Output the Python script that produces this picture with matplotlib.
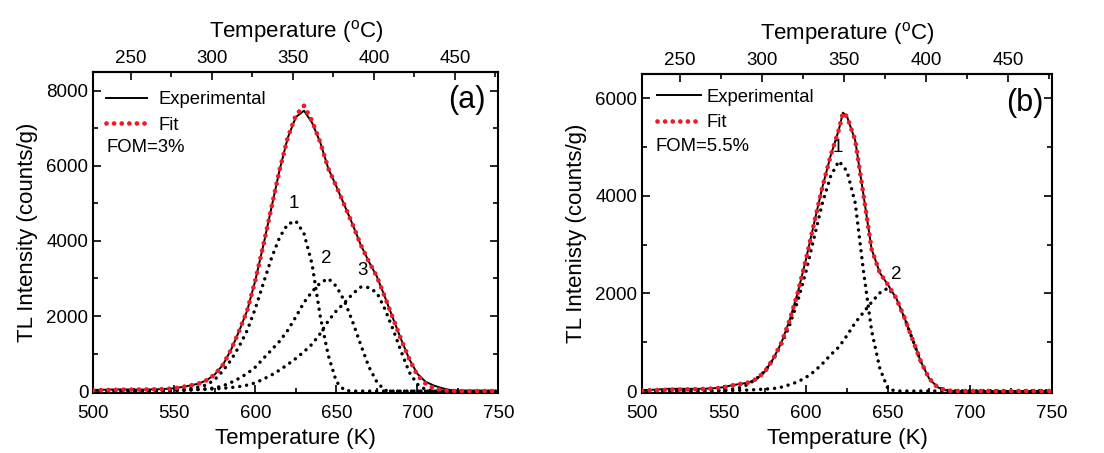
import matplotlib
matplotlib.use("Agg")
import matplotlib.pyplot as plt
from matplotlib.ticker import MultipleLocator

plt.rcParams["font.family"] = ["Liberation Sans", "DejaVu Sans"]
plt.rcParams["mathtext.fontset"] = "custom"
plt.rcParams["mathtext.rm"] = "Liberation Sans"

# ---------------- panel (a) ----------------
temp_a = list(range(500, 755, 5))
exp_a = [30, 35, 40, 45, 45, 40, 40, 45, 50, 60,
         75, 110, 150, 200, 290, 445, 700, 1100, 1600, 2150,
         2950, 3900, 4900, 5900, 6750, 7300, 7470, 7150, 6630, 5930,
         5450, 4950, 4440, 3900, 3450, 3050, 2500, 1930, 1370, 850,
         460, 250, 150, 80, 30, 8, 0, 0, 0, 0, 0]
fit_a = [20, 25, 30, 35, 40, 40, 40, 45, 50, 55,
         75, 110, 150, 200, 290, 445, 700, 1100, 1600, 2150,
         2950, 3900, 4900, 5900, 6750, 7350, 7600, 7200, 6630, 5930,
         5450, 4950, 4440, 3900, 3450, 3050, 2500, 1930, 1370, 850,
         420, 200, 80, 25, 5, 0, 0, 0, 0, 0, 0]
comp1_a = [0, 0, 0, 0, 0, 1, 2, 4, 7, 12,
           20, 40, 70, 110, 165, 310, 540, 830, 1190, 1620,
           2200, 2880, 3550, 4100, 4450, 4530, 4200, 3380, 2000, 950,
           250, 20, 0, 0, 0, 0, 0, 0, 0, 0,
           0, 0, 0, 0, 0, 0, 0, 0, 0, 0, 0]
comp2_a = [0, 0, 0, 0, 0, 0, 1, 2, 4, 6,
           10, 18, 30, 45, 60, 85, 140, 230, 340, 470,
           640, 870, 1100, 1330, 1620, 1980, 2360, 2650, 2880, 3000,
           2790, 2400, 1850, 1240, 650, 240, 20, 0, 0, 0,
           0, 0, 0, 0, 0, 0, 0, 0, 0, 0, 0]
comp3_a = [0, 0, 0, 0, 1, 2, 3, 5, 8, 12,
           17, 24, 32, 42, 50, 60, 75, 95, 120, 160,
           220, 320, 430, 560, 710, 870, 1050, 1250, 1530, 1870,
           2140, 2350, 2590, 2770, 2760, 2620, 2180, 1640, 1050, 500,
           180, 40, 5, 0, 0, 0, 0, 0, 0, 0, 0]
peak_labels_a = [("1", 623.5, 5000), ("2", 644, 3520), ("3", 666, 3210)]

# ---------------- panel (b) ----------------
temp_b_main = [500, 505, 510, 515, 520, 525, 530, 535, 540, 545,
               550, 555, 560, 565, 570, 575, 580, 585, 590, 595,
               600, 605, 610, 615, 620, 622.5, 625, 630, 635, 640,
               645, 650, 655, 660, 665, 670, 675, 680, 685, 690,
               695, 700, 705, 710, 715, 720, 725, 730, 735, 740,
               745, 750]
exp_b = [20, 25, 30, 45, 45, 45, 45, 45, 50, 60,
         80, 120, 145, 175, 250, 400, 660, 990, 1450, 2020,
         2700, 3450, 4180, 4820, 5350, 5700, 5620, 5130, 4020, 2900,
         2420, 2170, 1900, 1500, 1050, 600, 260, 80, 15, 0,
         0, 0, 0, 0, 0, 0, 0, 0, 0, 0,
         0, 0]
fit_b = [10, 15, 20, 25, 30, 30, 35, 40, 45, 55,
         75, 115, 145, 175, 250, 400, 660, 990, 1450, 2020,
         2700, 3450, 4180, 4820, 5350, 5700, 5620, 5130, 4020, 2900,
         2420, 2170, 1900, 1500, 1050, 600, 260, 80, 15, 0,
         0, 0, 0, 0, 0, 0, 0, 0, 0, 0,
         0, 0]
temp_b = list(range(500, 755, 5))
comp1_b = [0, 0, 0, 0, 0, 0, 1, 2, 4, 10,
           20, 40, 70, 140, 260, 410, 650, 950, 1350, 1850,
           2450, 3150, 3850, 4400, 4710, 4500, 3850, 2460, 1230, 460,
           40, 0, 0, 0, 0, 0, 0, 0, 0, 0,
           0, 0, 0, 0, 0, 0, 0, 0, 0, 0, 0]
comp2_b = [0, 0, 0, 0, 0, 0, 0, 1, 2, 4,
           6, 10, 15, 20, 30, 40, 50, 80, 130, 190,
           280, 400, 560, 740, 900, 1140, 1400, 1610, 1820, 2010,
           2110, 1900, 1500, 1050, 600, 260, 80, 15, 0, 0,
           0, 0, 0, 0, 0, 0, 0, 0, 0, 0, 0]
peak_labels_b = [("1", 619.4, 4990), ("2", 655.2, 2385)]

RED = "#ee1c25"


def draw_panel(ax, t_main, exp, fit, t_comp, comps, labels, ylim, ylabel,
               tag, tag_xy, fom, fom_xy, leg):
    ax.plot(t_main, exp, color="black", lw=1.4, label="Experimental", zorder=3)
    ax.plot(t_main, fit, color=RED, lw=3.4, ls=(0, (0.01, 1.6)),
            dash_capstyle="round", label="Fit", zorder=4)
    for c in comps:
        ax.plot(t_comp, c, color="black", lw=2.5, ls=(0, (0.01, 2.0)),
                dash_capstyle="round", zorder=2)
    for txt, x, y in labels:
        ax.text(x, y, txt, fontsize=13.5, ha="center", va="center")

    ax.set_xlim(500, 750)
    ax.set_ylim(*ylim)
    ax.xaxis.set_major_locator(MultipleLocator(50))
    ax.xaxis.set_minor_locator(MultipleLocator(25))
    ax.yaxis.set_major_locator(MultipleLocator(2000))
    ax.yaxis.set_minor_locator(MultipleLocator(1000))
    ax.tick_params(which="both", direction="in", right=True, labelsize=13.5, width=1.2)
    ax.tick_params(axis="x", pad=9)
    ax.tick_params(which="major", length=6)
    ax.tick_params(which="minor", length=3.5)
    for s in ax.spines.values():
        s.set_linewidth(1.5)
    ax.set_xlabel("Temperature (K)", fontsize=16, labelpad=4)
    ax.set_ylabel(ylabel, fontsize=16, labelpad=6)

    top = ax.secondary_xaxis("top", functions=(lambda k: k - 273.15, lambda c: c + 273.15))
    top.xaxis.set_major_locator(MultipleLocator(50))
    top.xaxis.set_minor_locator(MultipleLocator(25))
    top.tick_params(which="both", direction="in", labelsize=13.5, width=1.2)
    top.tick_params(which="major", length=6)
    top.tick_params(which="minor", length=3.5)
    top.spines["top"].set_linewidth(1.5)
    top.set_xlabel("Temperature ($^{\\mathrm{o}}$C)", fontsize=16, labelpad=9)

    ax.legend(loc="upper left", bbox_to_anchor=leg["anchor"], frameon=False,
              fontsize=13.3, handlelength=leg["hlen"], handletextpad=leg["hpad"],
              labelspacing=0.46, borderaxespad=0, borderpad=0.2)
    ax.text(fom_xy[0], fom_xy[1], fom, transform=ax.transAxes, fontsize=13.3, va="center")
    ax.text(tag_xy[0], tag_xy[1], tag, transform=ax.transAxes, fontsize=22,
            ha="center", va="center")


fig = plt.figure(figsize=(11.04, 4.53), dpi=100)
ax_a = fig.add_axes([0.0845, 0.1325, 0.367, 0.7085])
ax_b = fig.add_axes([0.5815, 0.1325, 0.3715, 0.705])

draw_panel(ax_a, temp_a, exp_a, fit_a, temp_a, [comp1_a, comp2_a, comp3_a],
           peak_labels_a, (-50, 8500), "TL Intensity (counts/g)",
           "(a)", (0.923, 0.913), "FOM=3%", (0.032, 0.766),
           {"anchor": (0.023, 0.952), "hlen": 2.2, "hpad": 0.6})
draw_panel(ax_b, temp_b_main, exp_b, fit_b, temp_b, [comp1_b, comp2_b],
           peak_labels_b, (-40, 6500), "TL Intenisty (counts/g)",
           "(b)", (0.934, 0.909), "FOM=5.5%", (0.034, 0.771),
           {"anchor": (0.028, 0.964), "hlen": 2.4, "hpad": 0.27})

fig.savefig("out.png", dpi=100)
